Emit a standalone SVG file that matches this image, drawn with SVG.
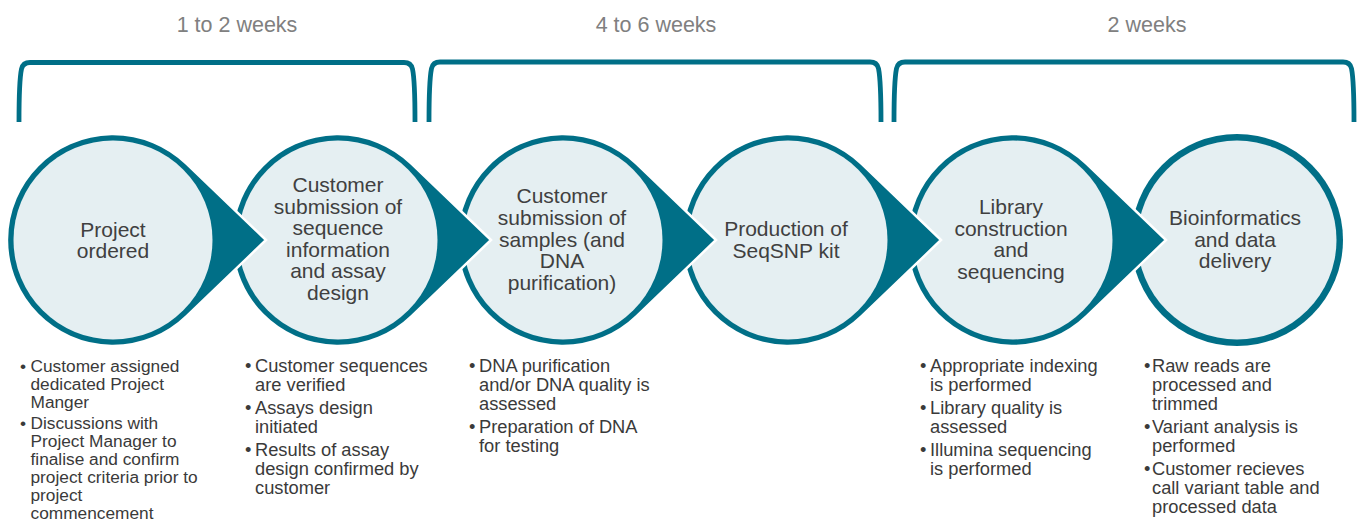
<svg xmlns="http://www.w3.org/2000/svg" width="1360" height="521" viewBox="0 0 1360 521">
<style>
.hdr{font-family:"Liberation Sans",Arial,sans-serif;font-size:21.5px;fill:#808080;text-anchor:middle}
.brk{fill:none;stroke:#006F87;stroke-width:4.8;stroke-linecap:butt;stroke-linejoin:round}
.drop{fill:#006F87;stroke:#ffffff;stroke-width:2.5;stroke-linejoin:miter}
.ring{fill:#006F87}
.inner{fill:#E5EFF2}
.lbl{font-family:"Liberation Sans",Arial,sans-serif;font-size:21px;fill:#404040;text-anchor:middle}
.bl{font-family:"Liberation Sans",Arial,sans-serif;font-size:18.3px;fill:#3a3a3a}
.bs{font-family:"Liberation Sans",Arial,sans-serif;font-size:17.3px;fill:#3a3a3a}
</style>
<rect width="1360" height="521" fill="#ffffff"/>

<g id="headers">
<text class="hdr" x="237" y="31.5">1 to 2 weeks</text>
<text class="hdr" x="656" y="31.5">4 to 6 weeks</text>
<text class="hdr" x="1147" y="31.5">2 weeks</text>
</g>

<g id="brackets">
<path class="brk" d="M19,122 C19,95 20,76 21.5,69 Q23,62.5 30,62.5 L404,62.5 Q411,62.5 412.5,69 C414,76 415,95 415,122"/>
<path class="brk" d="M429,122 C429,95 430,76 431.5,68.5 Q433,62 440,62 L870,62 Q877,62 878.5,68.5 C880,76 881,95 881,122"/>
<path class="brk" d="M894,122 C894,95 895,76 896.5,68.5 Q898,62 905,62 L1343,62 Q1350,62 1351.5,68.5 C1353,76 1354,95 1354,122"/>
</g>

<g id="node6">
<circle class="ring" cx="1237" cy="240" r="106"/>
<circle class="inner" cx="1237" cy="240" r="99.5"/>
<text class="lbl" x="1235" y="225">Bioinformatics</text>
<text class="lbl" x="1235" y="246.6">and data</text>
<text class="lbl" x="1235" y="268.2">delivery</text>
</g>

<g id="node5">
<path class="drop" d="M1166,240 L1086.4,163.6 A106,106 0 1,0 1086.4,316.4 Z"/>
<circle class="inner" cx="1013" cy="240" r="99.5"/>
<text class="lbl" x="1011" y="214">Library</text>
<text class="lbl" x="1011" y="235.6">construction</text>
<text class="lbl" x="1011" y="257.2">and</text>
<text class="lbl" x="1011" y="278.8">sequencing</text>
</g>

<g id="node4">
<path class="drop" d="M941,240 L861.4,163.6 A106,106 0 1,0 861.4,316.4 Z"/>
<circle class="inner" cx="788" cy="240" r="99.5"/>
<text class="lbl" x="786" y="236.3">Production of</text>
<text class="lbl" x="786" y="257.9">SeqSNP kit</text>
</g>

<g id="node3">
<path class="drop" d="M716,240 L636.4,163.6 A106,106 0 1,0 636.4,316.4 Z"/>
<circle class="inner" cx="563" cy="240" r="99.5"/>
<text class="lbl" x="562" y="203.3">Customer</text>
<text class="lbl" x="562" y="224.9">submission of</text>
<text class="lbl" x="562" y="246.5">samples (and</text>
<text class="lbl" x="562" y="268.1">DNA</text>
<text class="lbl" x="562" y="289.7">purification)</text>
</g>

<g id="node2">
<path class="drop" d="M491,240 L411.4,163.6 A106,106 0 1,0 411.4,316.4 Z"/>
<circle class="inner" cx="338" cy="240" r="99.5"/>
<text class="lbl" x="338" y="192">Customer</text>
<text class="lbl" x="338" y="213.6">submission of</text>
<text class="lbl" x="338" y="235.2">sequence</text>
<text class="lbl" x="338" y="256.8">information</text>
<text class="lbl" x="338" y="278.4">and assay</text>
<text class="lbl" x="338" y="300">design</text>
</g>

<g id="node1">
<path class="drop" d="M266,240 L186.4,163.6 A106,106 0 1,0 186.4,316.4 Z"/>
<circle class="inner" cx="113" cy="240" r="99.5"/>
<text class="lbl" x="113" y="236.5">Project</text>
<text class="lbl" x="113" y="258">ordered</text>
</g>

<g id="bullets1">
<text class="bs" x="20" y="372">•</text>
<text class="bs" x="30.5" y="372">Customer assigned</text>
<text class="bs" x="30.5" y="390">dedicated Project</text>
<text class="bs" x="30.5" y="408">Manger</text>
<text class="bs" x="20" y="429">•</text>
<text class="bs" x="30.5" y="429">Discussions with</text>
<text class="bs" x="30.5" y="447">Project Manager to</text>
<text class="bs" x="30.5" y="465">finalise and confirm</text>
<text class="bs" x="30.5" y="483">project criteria prior to</text>
<text class="bs" x="30.5" y="501">project</text>
<text class="bs" x="30.5" y="519">commencement</text>
</g>

<g id="bullets2">
<text class="bl" x="245" y="372">•</text>
<text class="bl" x="255" y="372">Customer sequences</text>
<text class="bl" x="255" y="391">are verified</text>
<text class="bl" x="245" y="414">•</text>
<text class="bl" x="255" y="414">Assays design</text>
<text class="bl" x="255" y="433">initiated</text>
<text class="bl" x="245" y="456">•</text>
<text class="bl" x="255" y="456">Results of assay</text>
<text class="bl" x="255" y="475">design confirmed by</text>
<text class="bl" x="255" y="494">customer</text>
</g>

<g id="bullets3">
<text class="bl" x="469" y="372">•</text>
<text class="bl" x="479" y="372">DNA purification</text>
<text class="bl" x="479" y="391">and/or DNA quality is</text>
<text class="bl" x="479" y="410">assessed</text>
<text class="bl" x="469" y="433">•</text>
<text class="bl" x="479" y="433">Preparation of DNA</text>
<text class="bl" x="479" y="452">for testing</text>
</g>

<g id="bullets5">
<text class="bl" x="920" y="372">•</text>
<text class="bl" x="930" y="372">Appropriate indexing</text>
<text class="bl" x="930" y="391">is performed</text>
<text class="bl" x="920" y="414">•</text>
<text class="bl" x="930" y="414">Library quality is</text>
<text class="bl" x="930" y="433">assessed</text>
<text class="bl" x="920" y="456">•</text>
<text class="bl" x="930" y="456">Illumina sequencing</text>
<text class="bl" x="930" y="475">is performed</text>
</g>

<g id="bullets6">
<text class="bl" x="1144" y="372">•</text>
<text class="bl" x="1152" y="372">Raw reads are</text>
<text class="bl" x="1152" y="391">processed and</text>
<text class="bl" x="1152" y="410">trimmed</text>
<text class="bl" x="1144" y="433">•</text>
<text class="bl" x="1152" y="433">Variant analysis is</text>
<text class="bl" x="1152" y="452">performed</text>
<text class="bl" x="1144" y="475">•</text>
<text class="bl" x="1152" y="475">Customer recieves</text>
<text class="bl" x="1152" y="494">call variant table and</text>
<text class="bl" x="1152" y="513">processed data</text>
</g>
</svg>
